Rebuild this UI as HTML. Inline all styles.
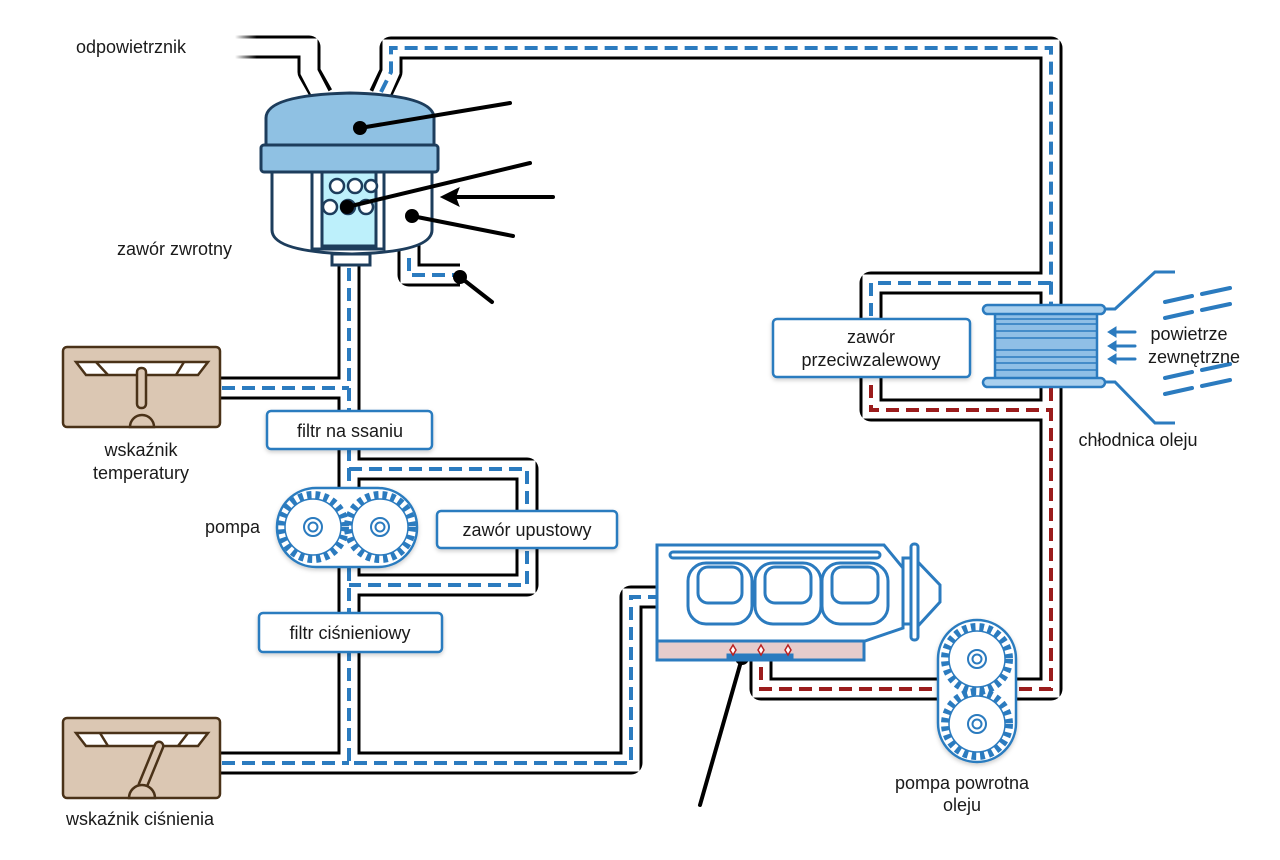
<!DOCTYPE html>
<html><head><meta charset="utf-8"><style>
html,body{margin:0;padding:0;background:#fff;}
svg{display:block;}
text{font-family:"Liberation Sans",sans-serif;font-size:18px;fill:#1a1a1a;}
</style></head><body>
<svg width="1280" height="860" viewBox="0 0 1280 860" xmlns="http://www.w3.org/2000/svg">
<defs>
<linearGradient id="fade" x1="0" x2="1" y1="0" y2="0"><stop offset="0" stop-color="#000" stop-opacity="0"/><stop offset="0.25" stop-color="#000" stop-opacity="1"/></linearGradient>
<filter id="sh" x="-10%" y="-20%" width="120%" height="150%"><feDropShadow dx="0" dy="2" stdDeviation="2" flood-color="#000" flood-opacity="0.2"/></filter>
</defs>

<g fill="none" stroke="#000" stroke-width="23" stroke-linejoin="round">
 <path d="M349 262 V763 H631 V597 H660"/>
 <path d="M220 388 H349"/>
 <path d="M220 763 H349"/>
 <path d="M349 469 H527 V585 H349"/>
 <path d="M380 95 L391 72 V48 H1051 V689 H761 V655"/>
 <path d="M1051 283 H871 V410 H1051"/>
 <path d="M409 240 V275 H460"/>
 <path d="M235 47 H309 V72 L322 95" stroke="url(#fade)"/>
</g>
<g fill="none" stroke="#fff" stroke-width="17" stroke-linejoin="miter">
 <path d="M349 262 V763 H631 V597 H662"/>
 <path d="M216 388 H349"/>
 <path d="M216 763 H349"/>
 <path d="M349 469 H527 V585 H349"/>
 <path d="M380 97 L391 72 V48 H1051 V689 H761 V652"/>
 <path d="M1051 283 H871 V410 H1051"/>
 <path d="M409 238 V275 H462"/>
 <path d="M200 47 H309 V72 L322 97"/>
</g>
<g fill="none" stroke="#2b7bbf" stroke-width="4" stroke-dasharray="13 7">
 <path d="M349 268 V763 H631 V597 H658"/>
 <path d="M222 388 H349"/>
 <path d="M222 763 H349"/>
 <path d="M349 469 H527 V585 H349"/>
 <path d="M381 92 L391 72 V48 H1051 V305"/>
 <path d="M1051 283 H871 V330"/>
 <path d="M409 258 V275 H455"/>
</g>
<g fill="none" stroke="#9b1c1c" stroke-width="4" stroke-dasharray="13 7">
 <path d="M1051 388 V689 H761 V665"/>
 <path d="M871 385 V410 H1051"/>
</g>

<!-- TANK -->
<g stroke="#1d3d5c" stroke-width="3">
 <path d="M272 172 V230 Q272 252 352 254 Q432 252 432 230 V172 Z" fill="#fff"/>
 <rect x="312" y="172" width="72" height="77" fill="#fff"/>
 <rect x="322" y="172" width="54" height="74" fill="#bdf0fb"/>
 <path d="M266 145 V118 Q266 95 350 93 Q434 95 434 118 V145 Z" fill="#8fc1e3"/>
 <rect x="261" y="145" width="177" height="27" rx="3" fill="#8fc1e3"/>
 <rect x="332" y="254" width="38" height="11" fill="#fff"/>
 <g fill="#fff" stroke-width="2.5">
  <circle cx="337" cy="186" r="7"/><circle cx="355" cy="186" r="7"/><circle cx="371" cy="186" r="6"/>
  <circle cx="330" cy="207" r="7"/><circle cx="348" cy="207" r="7"/><circle cx="366" cy="207" r="7"/>
 </g>
</g>
<g stroke="#000" stroke-width="4" fill="none" stroke-linecap="round">
 <line x1="360" y1="128" x2="510" y2="103"/>
 <line x1="347" y1="207" x2="530" y2="163"/>
 <line x1="553" y1="197" x2="450" y2="197"/>
 <line x1="412" y1="216" x2="513" y2="236"/>
 <line x1="460" y1="277" x2="492" y2="302"/>
 <line x1="742" y1="658" x2="700" y2="805"/>
</g>
<path d="M442 197 L458 189 L455 197 L458 205 Z" fill="#000" stroke="#000" stroke-width="2"/>
<g fill="#000"><circle cx="360" cy="128" r="7"/><circle cx="347" cy="207" r="7"/><circle cx="412" cy="216" r="7"/><circle cx="460" cy="277" r="7"/><circle cx="742" cy="658" r="7"/></g>

<!-- GAUGES -->
<g stroke="#4a3218" stroke-width="2.5">
 <rect x="63" y="347" width="157" height="80" rx="4" fill="#dbc7b3"/>
 <path d="M76 362 H208 L198 375 H86 Z" fill="#fff"/>
 <path d="M96 362 L108 375 M184 362 L176 375" fill="none"/>
 <rect x="137" y="368" width="9" height="40" rx="4" fill="#dbc7b3"/>
 <path d="M130 427 A12 12 0 0 1 154 427 Z" fill="#dbc7b3"/>
 <rect x="63" y="718" width="157" height="80" rx="4" fill="#dbc7b3"/>
 <path d="M76 733 H208 L198 746 H86 Z" fill="#fff"/>
 <path d="M100 733 L108 746 M188 733 L178 746" fill="none"/>
 <path d="M159 746 L143 785" stroke-width="11" stroke-linecap="round"/>
 <path d="M159 746 L143 785" stroke="#dbc7b3" stroke-width="6" stroke-linecap="round"/>
 <path d="M129 798 A13 13 0 0 1 155 798 Z" fill="#dbc7b3"/>
</g>

<!-- PUMPS -->
<g stroke="#2b7bbf" fill="#fff">
 <rect x="277" y="488" width="140" height="79" rx="39" stroke-width="2.5" filter="url(#sh)"/>
 <g fill="none">
  <circle cx="313" cy="527" r="32" stroke-width="8" stroke-dasharray="4.5 4"/>
  <circle cx="313" cy="527" r="28" stroke-width="1.5"/>
  <circle cx="313" cy="527" r="9" stroke-width="2"/><circle cx="313" cy="527" r="4.5" stroke-width="2"/>
  <circle cx="380" cy="527" r="32" stroke-width="8" stroke-dasharray="4.5 4"/>
  <circle cx="380" cy="527" r="28" stroke-width="1.5"/>
  <circle cx="380" cy="527" r="9" stroke-width="2"/><circle cx="380" cy="527" r="4.5" stroke-width="2"/>
 </g>
 <rect x="938" y="620" width="78" height="142" rx="39" stroke-width="2.5" filter="url(#sh)"/>
 <g fill="none">
  <circle cx="977" cy="659" r="32" stroke-width="8" stroke-dasharray="4.5 4"/>
  <circle cx="977" cy="659" r="28" stroke-width="1.5"/>
  <circle cx="977" cy="659" r="9" stroke-width="2"/><circle cx="977" cy="659" r="4.5" stroke-width="2"/>
  <circle cx="977" cy="724" r="32" stroke-width="8" stroke-dasharray="4.5 4"/>
  <circle cx="977" cy="724" r="28" stroke-width="1.5"/>
  <circle cx="977" cy="724" r="9" stroke-width="2"/><circle cx="977" cy="724" r="4.5" stroke-width="2"/>
 </g>
</g>

<!-- ENGINE -->
<g stroke="#2b7bbf" stroke-width="3" fill="#fff">
 <path d="M657 545 H884 L903 568 V628 L865 641 H657 Z"/>
 <rect x="657" y="641" width="207" height="19" fill="#e6cccc"/>
 <rect x="670" y="552" width="210" height="6" rx="3"/>
 <rect x="688" y="563" width="64" height="61" rx="18"/><rect x="698" y="567" width="44" height="36" rx="10"/>
 <rect x="755" y="563" width="66" height="61" rx="18"/><rect x="765" y="567" width="46" height="36" rx="10"/>
 <rect x="822" y="563" width="66" height="61" rx="18"/><rect x="832" y="567" width="46" height="36" rx="10"/>
 <rect x="903" y="558" width="8" height="66"/>
 <rect x="911" y="544" width="7" height="96" rx="3"/>
 <path d="M918 562 L940 585 V602 L918 626 Z"/>
 <path d="M728 660 V655 H792 V660" fill="#2b7bbf"/>
</g>
<g fill="#fff" stroke="#b22" stroke-width="1.5"><path d="M733 645 l3 5 -3 5 -3 -5z"/><path d="M761 645 l3 5 -3 5 -3 -5z"/><path d="M788 645 l3 5 -3 5 -3 -5z"/></g>

<!-- COOLER -->
<g stroke="#2b7bbf" stroke-width="2.5">
 <rect x="995" y="308" width="102" height="76" fill="#8fbfe6"/>
 <g stroke-width="1.5"><path d="M995 319 H1097 M995 324 H1097 M995 331 H1097 M995 338 H1097 M995 350 H1097 M995 357 H1097 M995 363 H1097 M995 370 H1097"/></g>
 <rect x="983" y="305" width="122" height="9" rx="4.5" fill="#a9d0ee"/>
 <rect x="983" y="378" width="122" height="9" rx="4.5" fill="#a9d0ee"/>
 <path d="M1105 309 H1115 L1155 272 H1175 M1105 382 H1115 L1155 423 H1175" fill="none" stroke-width="3"/>
 <g stroke-width="4" stroke-linecap="round" fill="none">
  <path d="M1165 302 L1192 296 M1202 294 L1230 288 M1165 318 L1192 312 M1202 310 L1230 304 M1165 378 L1192 372 M1202 370 L1230 364 M1165 394 L1192 388 M1202 386 L1230 380"/>
  <path d="M1135 332 H1112 M1135 346 H1112 M1135 359 H1112" stroke-width="3"/>
 </g>
 <path d="M1108 332 l8 -5 v10z M1108 346 l8 -5 v10z M1108 359 l8 -5 v10z" fill="#2b7bbf" stroke-width="1"/>
</g>

<g fill="#fff" stroke="#2b7bbf" stroke-width="2.5" filter="url(#sh)">
 <rect x="267" y="411" width="165" height="38" rx="4"/>
 <rect x="437" y="511" width="180" height="37" rx="4"/>
 <rect x="259" y="613" width="183" height="39" rx="4"/>
 <rect x="773" y="319" width="197" height="58" rx="4"/>
</g>
<g text-anchor="middle">
 <text x="350" y="437">filtr na ssaniu</text>
 <text x="527" y="536">zawór upustowy</text>
 <text x="350" y="639">filtr ciśnieniowy</text>
 <text x="871" y="343">zawór</text>
 <text x="871" y="366">przeciwzalewowy</text>
 <text x="141" y="456">wskaźnik</text>
 <text x="141" y="479">temperatury</text>
 <text x="140" y="825">wskaźnik ciśnienia</text>
 <text x="962" y="789">pompa powrotna</text>
 <text x="962" y="811">oleju</text>
 <text x="1189" y="340">powietrze</text>
 <text x="1194" y="363">zewnętrzne</text>
 <text x="1138" y="446">chłodnica oleju</text>
</g>
<text x="76" y="53">odpowietrznik</text>
<text x="117" y="255">zawór zwrotny</text>
<text x="205" y="533">pompa</text>
</svg>
</body></html>
